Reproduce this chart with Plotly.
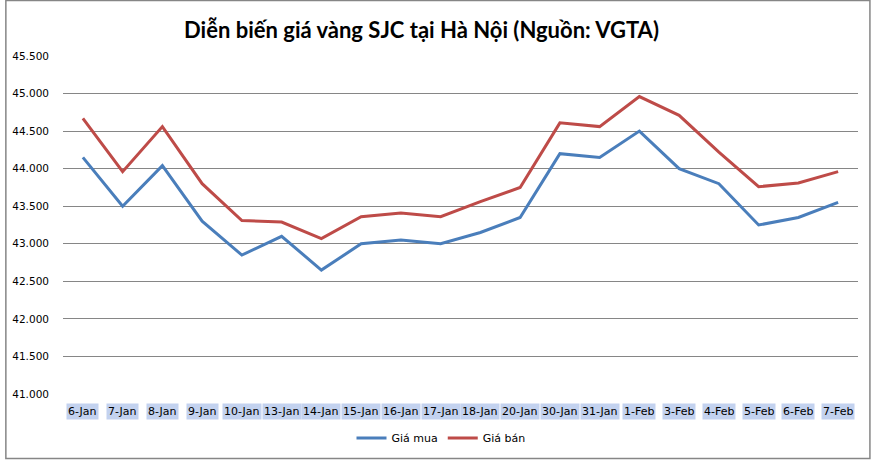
import plotly.graph_objects as go

categories = ["6-Jan", "7-Jan", "8-Jan", "9-Jan", "10-Jan", "13-Jan", "14-Jan", "15-Jan",
              "16-Jan", "17-Jan", "18-Jan", "20-Jan", "30-Jan", "31-Jan", "1-Feb", "3-Feb",
              "4-Feb", "5-Feb", "6-Feb", "7-Feb"]
gia_mua = [44150, 43500, 44040, 43300, 42850, 43100, 42650, 43000, 43050, 43000,
           43150, 43350, 44200, 44150, 44500, 44000, 43800, 43250, 43350, 43550]
gia_ban = [44670, 43960, 44560, 43800, 43310, 43290, 43070, 43360, 43410, 43360,
           43560, 43750, 44610, 44560, 44960, 44710, 44220, 43760, 43810, 43960]
y_ticks = list(range(41000, 45501, 500))

W, H = 873, 460
L, R, T, B = 58, 15, 56, 66
pw, ph = W - L - R, H - T - B

fig = go.Figure()
fig.add_trace(go.Scatter(x=categories, y=gia_mua, mode="lines", name="Giá mua",
                         line=dict(color="#4a7ebb", width=3)))
fig.add_trace(go.Scatter(x=categories, y=gia_ban, mode="lines", name="Giá bán",
                         line=dict(color="#be4b48", width=3)))

font_ax = "DejaVu Sans"
annos = []
for c in categories:
    annos.append(dict(x=c, xref="x", y=-17 / ph, yref="paper", text=c, showarrow=False,
                      font=dict(family=font_ax, size=11, color="#000000"),
                      bgcolor="#c3d2ef", borderpad=1, xanchor="center", yanchor="middle"))

def px_x(p):
    return (p - L) / pw

def px_y(p):
    return (H - B - p) / ph

fig.update_layout(
    width=W, height=H,
    margin=dict(l=L, r=R, t=T, b=B),
    paper_bgcolor="white", plot_bgcolor="white",
    separators=",.",
    title=dict(text="<b>Diễn biến giá vàng SJC tại Hà Nội (Nguồn: VGTA)</b>",
               x=421.5 / W, xref="container", xanchor="center",
               y=1 - 30 / H, yref="container", yanchor="middle",
               font=dict(family="Lato", size=22, color="#000000")),
    xaxis=dict(type="category", showgrid=False, showline=False, zeroline=False,
               showticklabels=False, ticks="", range=[-0.5, len(categories) - 0.5]),
    yaxis=dict(range=[41000, 45500], tickvals=y_ticks, tickformat=",.0f",
               showgrid=True, gridcolor="#868686", gridwidth=1, zeroline=False,
               showline=False, ticks="", ticklabelstandoff=13,
               tickfont=dict(family=font_ax, size=10.5, color="#000000")),
    showlegend=True,
    legend=dict(orientation="h", x=441 / W, xref="container", xanchor="center",
                y=1 - 438 / H, yref="container", yanchor="middle",
                font=dict(family=font_ax, size=11, color="#000000"),
                bgcolor="rgba(0,0,0,0)", itemwidth=30, tracegroupgap=0),
    annotations=annos,
    shapes=[dict(type="rect", xref="paper", yref="paper",
                 x0=px_x(0.5), x1=px_x(870), y0=px_y(458.5), y1=px_y(0.5),
                 line=dict(color="#868686", width=1.5), fillcolor="rgba(0,0,0,0)",
                 layer="above")],
)

fig.write_html("out.html", config={"displayModeBar": False},
               post_script="document.body.style.margin='0';")
